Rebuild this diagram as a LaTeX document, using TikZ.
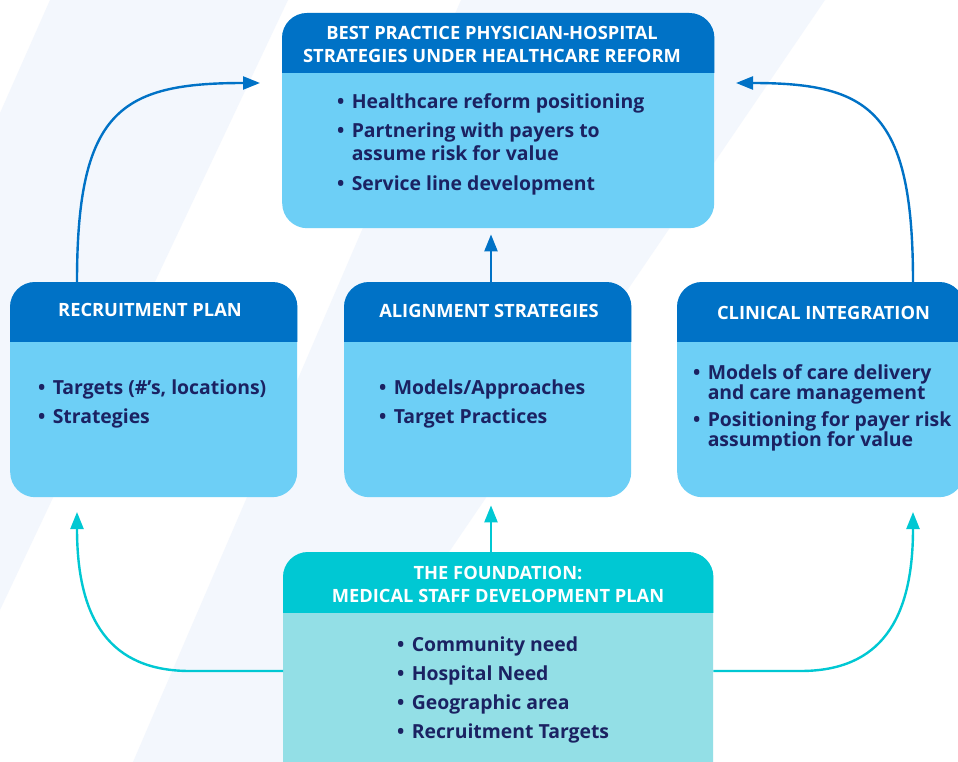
\documentclass[tikz,border=0pt]{standalone}
\usepackage{fontspec}
\setmainfont{Open Sans}
\usetikzlibrary{calc,arrows.meta}
\definecolor{hdrblue}{HTML}{0072C6}
\definecolor{bodyblue}{HTML}{6DCFF6}
\definecolor{hdrteal}{HTML}{00C8D3}
\definecolor{bodyteal}{HTML}{93DFE6}
\definecolor{navy}{HTML}{1B2262}
\definecolor{stripe}{HTML}{F3F7FD}
\newcommand{\mybul}{\makebox[0.75em][l]{•}}
\newcommand{\myhang}{\hspace*{0.75em}}
\tikzset{
  panel/.style={rounded corners=25pt, inner sep=0pt, anchor=north west},
  bluepanel/.style={panel, fill=bodyblue},
  tealpanel/.style={panel, fill=bodyteal},
  hdrtext/.style={text=white, font=\bfseries\fontsize{18.3}{23}\selectfont, align=center, inner sep=0pt},
  bodytext/.style={text=navy, font=\bfseries\fontsize{19.4}{23.5}\selectfont, align=left, inner sep=0pt, anchor=base west},
  arr/.style={line width=2.4pt, -{Triangle[length=17pt,width=13pt]}},
}
\begin{document}
\begin{tikzpicture}[x=1pt,y=-1pt]
\clip (0,0) rectangle (958,762);
\fill[white] (0,0) rectangle (958,762);
% background stripes
\fill[stripe] (50,0) -- (288,0) -- (0,610) -- (0,113) -- cycle;
\fill[stripe] (461,0) -- (825,0) -- (306,762) -- (133,762) -- cycle;

% panels
\node[bluepanel, minimum width=432pt, minimum height=215pt] (top) at (282,13) {};
\node[bluepanel, minimum width=287pt, minimum height=215pt] (rec) at (10,282) {};
\node[bluepanel, minimum width=287pt, minimum height=215pt] (align) at (344,282) {};
\node[bluepanel, minimum width=287pt, minimum height=215pt] (clin) at (677,282) {};
\node[tealpanel, minimum width=430pt, minimum height=235pt] (found) at (283,552) {};

% headers
\foreach \n/\h/\c in {top/60/hdrblue, rec/59/hdrblue, align/59/hdrblue, clin/59/hdrblue, found/60/hdrteal}{
  \begin{scope}
    \clip (\n.north west) rectangle ($(\n.north east)+(0,\h)$);
    \fill[\c, rounded corners=25pt] (\n.north west) rectangle (\n.south east);
  \end{scope}
}

% header texts
\node[hdrtext] (topH) at (492,44.5) {BEST PRACTICE PHYSICIAN-HOSPITAL\\STRATEGIES UNDER HEALTHCARE REFORM};
\node[hdrtext] (recH) at (150,309.5) {RECRUITMENT PLAN};
\node[hdrtext] (alignH) at (489,311) {ALIGNMENT STRATEGIES};
\node[hdrtext] (clinH) at (823.5,312.5) {CLINICAL INTEGRATION};
\node[hdrtext] (foundH) at (498,584.7) {THE FOUNDATION:\\MEDICAL STAFF DEVELOPMENT PLAN};

% body texts (anchored at the baseline of the last line)
\node[bodytext] (topB) at (337,190) {\mybul Healthcare reform positioning\\[5.5pt]\mybul Partnering with payers to\\\myhang assume risk for value\\[5.5pt]\mybul Service line development};
\node[bodytext] (recB) at (38,423) {\mybul Targets (\#’s, locations)\\[5.5pt]\mybul Strategies};
\node[bodytext] (alignB) at (379,423) {\mybul Models/Approaches\\[5.5pt]\mybul Target Practices};
\node[bodytext, font=\bfseries\fontsize{19.4}{20}\selectfont] (clinB) at (693,446) {\mybul Models of care delivery\\\myhang and care management\\[7pt]\mybul Positioning for payer risk\\\myhang assumption for value};
\node[bodytext] (foundB) at (397,738) {\mybul Community need\\[5.5pt]\mybul Hospital Need\\[5.5pt]\mybul Geographic area\\[5.5pt]\mybul Recruitment Targets};

% arrow end points
\coordinate (tipTL) at (260,83);
\coordinate (tipTR) at (736,83);
\coordinate (cx) at (491,0);
\coordinate (tipBL) at (77,512);
\coordinate (tipBR) at (913,512);

% connectors
\draw[arr, hdrblue] ($(rec.north west)+(67,0)$) .. controls +(0,-171) and +(-140,0) .. (tipTL);
\draw[arr, hdrblue] ($(clin.north west)+(236,0)$) .. controls +(0,-171) and +(134,0) .. (tipTR);
\draw[arr, hdrblue] (align.north -| cx) -- ($(top.south -| cx)+(0,6)$);
\draw[arr, hdrteal] (found.north -| cx) -- ($(align.south -| cx)+(0,8)$);
\draw[arr, hdrteal] ($(found.north west)+(0,119)$) -- ++(-93,0) .. controls +(-80,0) and +(0,108) .. (tipBL);
\draw[arr, hdrteal] ($(found.north east)+(0,119)$) -- ++(87,0) .. controls +(80,0) and +(0,108) .. (tipBR);
\end{tikzpicture}
\end{document}
